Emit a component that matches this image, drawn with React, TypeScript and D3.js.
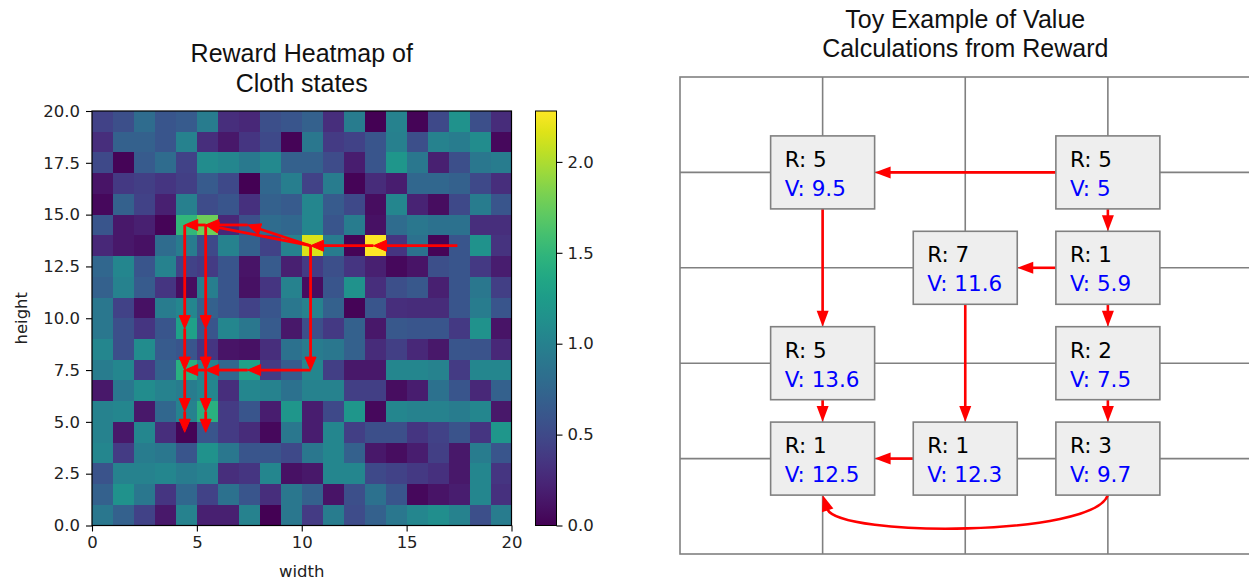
import React, { useEffect, useRef } from "react";
import * as d3 from "d3";

// reward grid, top row (y = 19) first, columns x = 0..19
const rewardRows: number[][] = [
  [0.45, 0.55, 0.8, 0.6, 0.65, 0.95, 0.3, 0.25, 0.55, 0.6, 0.7, 0.3, 0.95, 0.0, 1.0, 0.02, 0.5, 1.15, 0.55, 0.28],
  [0.3, 0.7, 0.7, 0.6, 1.0, 0.3, 0.15, 0.35, 0.5, 0.02, 0.9, 0.4, 0.45, 0.6, 0.98, 0.55, 1.0, 0.95, 1.1, 0.05],
  [0.5, 0.02, 0.65, 0.8, 0.45, 1.1, 1.05, 0.92, 1.07, 0.7, 0.7, 0.52, 0.18, 0.6, 1.2, 0.9, 0.2, 0.55, 0.9, 0.95],
  [0.12, 0.38, 0.42, 0.35, 0.42, 0.65, 0.5, 0.0, 0.75, 0.97, 0.45, 0.95, 0.02, 0.28, 0.18, 0.75, 0.75, 0.7, 0.5, 0.3],
  [0.05, 0.7, 0.45, 0.2, 0.98, 0.52, 0.6, 0.32, 0.7, 0.65, 1.05, 0.65, 0.5, 0.08, 1.05, 0.22, 0.08, 0.5, 0.95, 0.6],
  [0.6, 0.15, 0.2, 0.02, 1.5, 1.78, 0.25, 0.55, 0.8, 0.75, 1.05, 0.6, 0.95, 0.1, 0.8, 0.9, 0.85, 0.85, 0.3, 0.3],
  [0.25, 0.15, 0.1, 0.8, 0.95, 0.5, 1.0, 0.7, 0.45, 1.0, 2.15, 0.95, 0.02, 2.28, 0.35, 0.85, 0.02, 0.6, 1.15, 0.33],
  [0.75, 1.05, 0.6, 1.0, 0.45, 0.4, 0.6, 0.12, 0.65, 0.2, 0.4, 0.55, 0.35, 0.2, 0.05, 0.12, 0.55, 0.6, 0.38, 0.18],
  [0.7, 1.0, 0.65, 0.35, 0.08, 0.97, 0.6, 0.1, 0.35, 1.0, 0.08, 0.6, 1.15, 0.3, 0.55, 0.62, 0.2, 0.6, 0.9, 0.42],
  [0.9, 0.45, 0.1, 0.95, 1.05, 0.7, 0.6, 0.45, 0.6, 0.9, 1.0, 0.7, 0.02, 0.6, 0.3, 0.28, 0.28, 0.6, 0.95, 0.6],
  [0.9, 0.55, 0.35, 0.6, 1.3, 0.6, 1.05, 0.9, 0.65, 0.15, 0.55, 0.38, 0.7, 0.15, 0.62, 0.6, 0.6, 0.38, 1.15, 0.12],
  [1.05, 0.55, 1.1, 0.65, 0.6, 0.35, 0.12, 0.1, 0.3, 0.85, 0.95, 0.9, 0.7, 0.28, 0.42, 0.25, 0.15, 0.6, 0.58, 0.25],
  [0.95, 1.05, 0.4, 0.7, 1.45, 1.0, 0.75, 1.3, 0.4, 0.65, 1.05, 0.42, 0.15, 0.15, 1.05, 1.05, 1.0, 0.4, 1.05, 1.05],
  [0.15, 0.9, 1.1, 1.0, 0.95, 1.05, 0.3, 1.05, 1.0, 0.85, 1.0, 1.0, 0.42, 0.42, 0.08, 0.18, 0.85, 0.6, 0.25, 0.7],
  [1.0, 1.05, 0.15, 0.75, 1.0, 1.45, 0.4, 0.6, 0.18, 1.2, 0.18, 0.5, 1.2, 0.05, 1.05, 1.0, 1.0, 0.95, 1.05, 0.15],
  [1.0, 0.15, 1.05, 0.3, 0.02, 0.6, 0.4, 0.28, 0.05, 0.9, 0.18, 1.05, 0.42, 0.55, 0.55, 0.35, 0.45, 0.58, 0.35, 1.2],
  [1.05, 0.4, 0.95, 0.9, 0.6, 1.15, 0.9, 0.6, 0.6, 0.5, 0.9, 1.05, 0.7, 0.15, 0.08, 0.18, 0.42, 0.15, 0.95, 0.6],
  [0.58, 1.0, 1.0, 1.05, 0.95, 1.0, 0.3, 0.35, 1.05, 0.1, 0.15, 1.05, 1.05, 0.5, 0.45, 0.38, 0.32, 0.15, 1.05, 0.35],
  [0.7, 1.15, 0.9, 0.35, 0.75, 0.45, 0.85, 0.6, 0.3, 0.9, 0.7, 0.12, 0.55, 0.85, 0.6, 0.05, 0.12, 0.18, 1.05, 0.32],
  [0.9, 0.7, 0.45, 0.15, 1.0, 0.2, 0.2, 1.0, 0.0, 0.9, 0.4, 0.95, 0.52, 0.7, 0.9, 1.05, 1.12, 1.0, 0.55, 0.95],
];

const heightTicks = [0, 2.5, 5, 7.5, 10, 12.5, 15, 17.5, 20];
const widthTicks = [0, 5, 10, 15, 20];
const colorbarTicks = [0, 0.5, 1, 1.5, 2];

// trajectory arrows on the heatmap: [x0, y0, x1, y1]
const trajArrows: number[][] = [
  [17.42, 13.5, 13.42, 13.5],
  [13.42, 13.5, 10.42, 13.5],
  [10.42, 13.5, 7.42, 14.5],
  [10.42, 13.5, 5.42, 14.5],
  [7.42, 14.5, 5.42, 14.5],
  [5.42, 14.5, 4.42, 14.5],
  [4.42, 14.5, 4.42, 9.5],
  [5.42, 14.5, 5.42, 9.5],
  [4.42, 9.5, 4.42, 7.5],
  [5.42, 9.5, 5.42, 7.5],
  [10.42, 13.5, 10.42, 7.5],
  [10.42, 7.5, 7.42, 7.5],
  [7.42, 7.5, 5.42, 7.5],
  [5.42, 7.5, 4.42, 7.5],
  [4.42, 7.5, 4.42, 5.5],
  [5.42, 7.5, 5.42, 5.5],
  [4.42, 5.5, 4.42, 4.5],
  [5.42, 5.5, 5.42, 4.5],
];

// toy example nodes (grid column / row from top-left)
const nodeCols = [1, 3, 2, 3, 1, 3, 1, 2, 3];
const nodeRows = [1, 1, 2, 2, 3, 3, 4, 4, 4];
const nodeRewards = ["5", "5", "7", "1", "5", "2", "1", "1", "3"];
const nodeValues = ["9.5", "5", "11.6", "5.9", "13.6", "7.5", "12.5", "12.3", "9.7"];
const nodeLinks = [[1, 0], [1, 3], [3, 2], [0, 4], [2, 7], [3, 5], [4, 6], [5, 8], [7, 6]];
const curvedLink = [8, 6];

const tickFont = "DejaVu Sans, sans-serif";
const titleFont = "Liberation Sans, Arial, sans-serif";

function arrowParts(x0: number, y0: number, x1: number, y1: number, headLen: number, headW: number) {
  const len = Math.hypot(x1 - x0, y1 - y0);
  const ux = (x1 - x0) / len, uy = (y1 - y0) / len;
  const bx = x1 - ux * headLen, by = y1 - uy * headLen;
  const px = -uy * headW / 2, py = ux * headW / 2;
  return {
    line: `M${x0},${y0}L${bx + ux},${by + uy}`,
    head: `M${x1},${y1}L${bx + px},${by + py}L${bx - px},${by - py}Z`,
  };
}

export default function App() {
  const ref = useRef<SVGSVGElement>(null);

  useEffect(() => {
    const svg = d3.select(ref.current);
    svg.selectAll("*").remove();

    // ---------- left: heatmap ----------
    const x = d3.scaleLinear().domain([0, 20]).range([92, 511.5]);
    const y = d3.scaleLinear().domain([0, 20]).range([525.5, 111]);
    const allVals = rewardRows.flat();
    const [vmin, vmax] = d3.extent(allVals) as [number, number];
    const color = d3.scaleSequential(d3.interpolateViridis).domain([vmin, vmax]);

    const cells = rewardRows.flatMap((row, r) => row.map((v, c) => ({ c, r: 19 - r, v })));
    const hm = svg.append("g");
    hm.selectAll("rect")
      .data(cells)
      .enter()
      .append("rect")
      .attr("x", d => x(d.c))
      .attr("y", d => y(d.r + 1))
      .attr("width", x(1) - x(0) + 0.4)
      .attr("height", y(0) - y(1) + 0.4)
      .attr("fill", d => color(d.v))
      .attr("shape-rendering", "crispEdges");

    // arrows
    const ag = svg.append("g");
    trajArrows.forEach(a => {
      const p = arrowParts(x(a[0]), y(a[1]), x(a[2]), y(a[3]), 13, 11);
      ag.append("path").attr("d", p.line).attr("stroke", "#ff0000").attr("stroke-width", 2.8).attr("fill", "none");
      ag.append("path").attr("d", p.head).attr("fill", "#ff0000").attr("stroke", "#ff0000").attr("stroke-width", 1);
    });

    hm.append("rect")
      .attr("x", x(0)).attr("y", y(20))
      .attr("width", x(20) - x(0)).attr("height", y(0) - y(20))
      .attr("fill", "none").attr("stroke", "#000").attr("stroke-width", 1.2);

    const yAxis = svg.append("g").attr("transform", `translate(${x(0)},0)`)
      .call(d3.axisLeft(y).tickValues(heightTicks).tickFormat(d3.format(".1f")).tickSize(6).tickPadding(6));
    const xAxis = svg.append("g").attr("transform", `translate(0,${y(0)})`)
      .call(d3.axisBottom(x).tickValues(widthTicks).tickFormat(d3.format("d")).tickSize(6).tickPadding(5));
    [xAxis, yAxis].forEach(ax => {
      ax.select(".domain").remove();
      ax.selectAll("line").attr("stroke", "#000").attr("stroke-width", 1.1);
      ax.selectAll("text").attr("font-family", tickFont).attr("font-size", 16.5).attr("fill", "#222");
    });

    svg.append("text").attr("x", (x(0) + x(20)) / 2).attr("y", 577)
      .attr("text-anchor", "middle").attr("font-family", tickFont).attr("font-size", 16.5).attr("fill", "#222")
      .text("width");
    svg.append("text").attr("transform", `translate(27,${(y(0) + y(20)) / 2}) rotate(-90)`)
      .attr("text-anchor", "middle").attr("font-family", tickFont).attr("font-size", 16.5).attr("fill", "#222")
      .text("height");

    const lt = svg.append("text").attr("text-anchor", "middle").attr("font-family", titleFont)
      .attr("font-size", 25).attr("fill", "#111");
    lt.append("tspan").attr("x", (x(0) + x(20)) / 2).attr("y", 62).text("Reward Heatmap of");
    lt.append("tspan").attr("x", (x(0) + x(20)) / 2).attr("y", 91.5).text("Cloth states");

    // colorbar
    const cb = d3.scaleLinear().domain([vmin, vmax]).range([525.5, 111]);
    const defs = svg.append("defs");
    const grad = defs.append("linearGradient").attr("id", "cbgrad")
      .attr("x1", "0%").attr("y1", "100%").attr("x2", "0%").attr("y2", "0%");
    d3.range(0, 1.0001, 0.05).forEach(t => {
      grad.append("stop").attr("offset", `${t * 100}%`).attr("stop-color", d3.interpolateViridis(t));
    });
    svg.append("rect").attr("x", 535.5).attr("y", cb(vmax)).attr("width", 21)
      .attr("height", cb(vmin) - cb(vmax)).attr("fill", "url(#cbgrad)")
      .attr("stroke", "#000").attr("stroke-width", 1);
    const cAxis = svg.append("g").attr("transform", "translate(556.5,0)")
      .call(d3.axisRight(cb).tickValues(colorbarTicks).tickFormat(d3.format(".1f")).tickSize(6).tickPadding(5));
    cAxis.select(".domain").remove();
    cAxis.selectAll("line").attr("stroke", "#000").attr("stroke-width", 1.1);
    cAxis.selectAll("text").attr("font-family", tickFont).attr("font-size", 16.5).attr("fill", "#222");

    // ---------- right: toy example ----------
    const gx = d3.scaleLinear().domain([0, 4]).range([680, 1250.5]);
    const gy = d3.scaleLinear().domain([0, 5]).range([77, 554]);
    const grid = svg.append("g").attr("stroke", "#808080").attr("stroke-width", 1.6);
    d3.range(1, 4).forEach(c => {
      grid.append("line").attr("x1", gx(c)).attr("x2", gx(c)).attr("y1", gy(0)).attr("y2", gy(5));
    });
    d3.range(1, 5).forEach(r => {
      grid.append("line").attr("x1", gx(0)).attr("x2", gx(4)).attr("y1", gy(r)).attr("y2", gy(r));
    });
    grid.append("rect").attr("x", gx(0)).attr("y", gy(0)).attr("width", gx(4) - gx(0))
      .attr("height", gy(5) - gy(0)).attr("fill", "none");

    const rt = svg.append("text").attr("text-anchor", "middle").attr("font-family", titleFont)
      .attr("font-size", 25).attr("fill", "#111");
    rt.append("tspan").attr("x", gx(2)).attr("y", 27.5).text("Toy Example of Value");
    rt.append("tspan").attr("x", gx(2)).attr("y", 57).text("Calculations from Reward");

    const halfW = 52, halfH = 36.5;
    const red = "#ff0000";
    const links = svg.append("g");
    nodeLinks.forEach(([s, t]) => {
      const sx = gx(nodeCols[s]), sy = gy(nodeRows[s]);
      const tx = gx(nodeCols[t]), ty = gy(nodeRows[t]);
      let p;
      if (sx === tx) {
        const dir = Math.sign(ty - sy);
        p = arrowParts(sx, sy + dir * halfH, tx, ty - dir * halfH, 16, 12);
      } else {
        const dir = Math.sign(tx - sx);
        p = arrowParts(sx + dir * halfW, sy, tx - dir * halfW, ty, 16, 12);
      }
      links.append("path").attr("d", p.line).attr("stroke", red).attr("stroke-width", 2.6).attr("fill", "none");
      links.append("path").attr("d", p.head).attr("fill", red);
    });

    // curved link under the bottom row
    {
      const [s, t] = curvedLink;
      const x0 = gx(nodeCols[s]), y0 = gy(nodeRows[s]) + halfH;
      const x1 = gx(nodeCols[t]), y1 = gy(nodeRows[t]) + halfH;
      const c1 = [x0 - 14, y0 + 42], c2 = [x1 + 14, y1 + 42];
      const ang = Math.atan2(y1 - c2[1], x1 - c2[0]);
      const ux = Math.cos(ang), uy = Math.sin(ang);
      const hl = 16, hw = 12;
      const bx = x1 - ux * hl, by = y1 - uy * hl;
      links.append("path")
        .attr("d", `M${x0},${y0}C${c1[0]},${c1[1]} ${c2[0] + 4},${c2[1]} ${bx + ux},${by + uy}`)
        .attr("stroke", red).attr("stroke-width", 2.6).attr("fill", "none");
      links.append("path")
        .attr("d", `M${x1},${y1}L${bx - uy * hw / 2},${by + ux * hw / 2}L${bx + uy * hw / 2},${by - ux * hw / 2}Z`)
        .attr("fill", red);
    }

    const nodes = svg.append("g");
    nodeCols.forEach((c, i) => {
      const cx = gx(c), cy = gy(nodeRows[i]);
      nodes.append("rect").attr("x", cx - halfW).attr("y", cy - halfH).attr("width", halfW * 2).attr("height", halfH * 2)
        .attr("fill", "#eeeeee").attr("stroke", "#808080").attr("stroke-width", 1.6);
      nodes.append("text").attr("x", cx - 38).attr("y", cy - 5.5).attr("font-family", tickFont)
        .attr("font-size", 21.5).attr("fill", "#000").text(`R: ${nodeRewards[i]}`);
      nodes.append("text").attr("x", cx - 38).attr("y", cy + 23.5).attr("font-family", tickFont)
        .attr("font-size", 21.5).attr("fill", "#0000ff").text(`V: ${nodeValues[i]}`);
    });
  }, []);

  return (
    <svg ref={ref} width={1249} height={582} style={{ position: "absolute", left: 0, top: 0, background: "#fff" }} />
  );
}
